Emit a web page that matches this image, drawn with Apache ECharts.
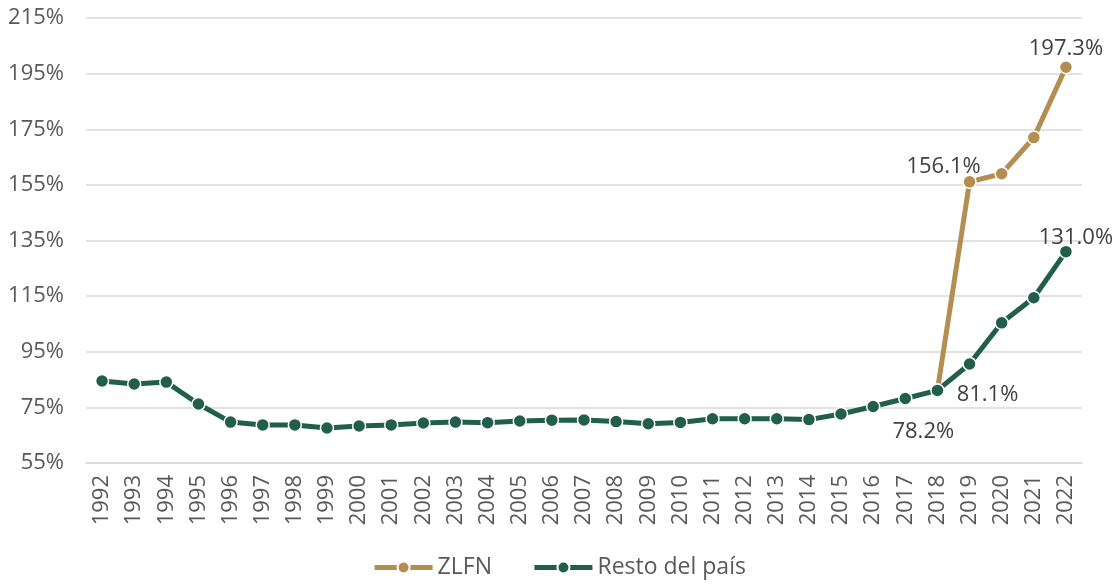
<!DOCTYPE html>
<html>
<head>
<meta charset="utf-8">
<script src="https://cdn.jsdelivr.net/npm/echarts@6/dist/echarts.min.js"></script>
<style>
html,body{margin:0;padding:0;background:#fff;}
#c{width:1118px;height:585px;}
</style>
</head>
<body>
<div id="c"></div>
<script>
const years = ['1992','1993','1994','1995','1996','1997','1998','1999','2000','2001','2002','2003','2004','2005','2006','2007','2008','2009','2010','2011','2012','2013','2014','2015','2016','2017','2018','2019','2020','2021','2022'];
const resto = [84.5,83.4,84.1,76.2,69.7,68.7,68.7,67.6,68.3,68.7,69.4,69.7,69.5,70.1,70.4,70.5,69.9,69.1,69.6,70.9,70.9,70.9,70.6,72.6,75.3,78.2,81.1,90.6,105.4,114.4,131.0];
const zlfn = [null,null,null,null,null,null,null,null,null,null,null,null,null,null,null,null,null,null,null,null,null,null,null,null,null,null,81.1,156.1,159.0,172.0,197.3];
const yTicks = ['55%','75%','95%','115%','135%','155%','175%','195%','215%'];
const seriesNames = ['ZLFN','Resto del país'];

const BASE = 55; // axis starts at 55%
const fontFam = '"Open Sans", "Noto Sans", sans-serif';

// which points carry a data label, and where
const zlfnLabels = {27: {position: 'top', offset: [-26, 8]}, 30: {position: 'top', offset: [0, 5]}};
const restoLabels = {25: {position: 'bottom', offset: [18, 10]}, 26: {position: 'right', offset: [7, 4]}, 30: {position: 'top', offset: [10, 9]}};

function build(vals, labels) {
  return vals.map((v, i) => {
    if (v === null) return null;
    const d = {value: +(v - BASE).toFixed(2)};
    if (labels[i]) {
      d.label = Object.assign({
        show: true,
        formatter: v.toFixed(1) + '%',
        color: '#404040',
        fontSize: 22,
        fontFamily: fontFam
      }, labels[i]);
    }
    return d;
  });
}

const chart = echarts.init(document.getElementById('c'), null, {renderer: 'canvas'});
chart.setOption({
  animation: false,
  grid: {left: 86, right: 36, top: 18, bottom: 122, containLabel: false},
  legend: {
    bottom: 1,
    left: 'center',
    itemWidth: 58,
    itemHeight: 15,
    itemGap: 40,
    lineStyle: {width: 5},
    textStyle: {color: '#595959', fontSize: 23, fontFamily: fontFam},
    data: seriesNames
  },
  xAxis: {
    type: 'category',
    data: years,
    boundaryGap: true,
    axisLine: {show: true, lineStyle: {color: '#d9d9d9', width: 1.5}},
    axisTick: {show: false},
    axisLabel: {rotate: 90, color: '#595959', fontSize: 22, fontFamily: fontFam, margin: 12, interval: 0}
  },
  yAxis: {
    type: 'value',
    min: 0,
    max: 160,
    interval: 20,
    axisLine: {show: false},
    axisTick: {show: false},
    splitLine: {lineStyle: {color: '#d9d9d9', width: 1.5}},
    axisLabel: {
      color: '#595959', fontSize: 22, fontFamily: fontFam, margin: 22,
      formatter: (v) => yTicks[Math.round(v / 20)]
    }
  },
  series: [
    {
      name: seriesNames[0],
      type: 'line',
      data: build(zlfn, zlfnLabels),
      connectNulls: false,
      symbol: 'circle',
      symbolSize: 13,
      showAllSymbol: true,
      lineStyle: {color: '#B38E50', width: 5},
      itemStyle: {color: '#B38E50', borderColor: '#fff', borderWidth: 1.5},
      z: 2
    },
    {
      name: seriesNames[1],
      type: 'line',
      data: build(resto, restoLabels),
      symbol: 'circle',
      symbolSize: 13,
      showAllSymbol: true,
      lineStyle: {color: '#215E4C', width: 5},
      itemStyle: {color: '#215E4C', borderColor: '#fff', borderWidth: 1.5},
      z: 3
    }
  ]
});
</script>
</body>
</html>
